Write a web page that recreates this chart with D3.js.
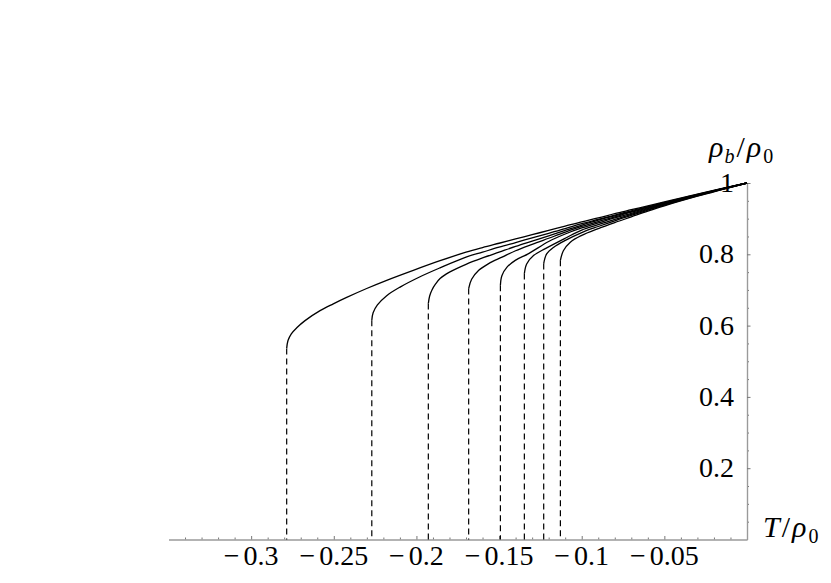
<!DOCTYPE html>
<html>
<head>
<meta charset="utf-8">
<script src="https://cdn.jsdelivr.net/npm/d3@7"></script>
<style>
  body { margin: 0; background: #fff; }
  svg text { font-family: "Liberation Serif", "Times New Roman", serif; fill: #000; }
</style>
</head>
<body>
<div id="graph"></div>
<script>
// points: [T/rho0, rho_b/rho0]
var curve1 = [[-0.2785,0.536],[-0.2777,0.558],[-0.2757,0.577],[-0.2724,0.594],[-0.2674,0.614],[-0.2583,0.642],
              [-0.2503,0.661],[-0.2422,0.679],[-0.2301,0.704],[-0.2180,0.727],[-0.2019,0.755],[-0.1857,0.782],
              [-0.17,0.806],[-0.16,0.819],[-0.15,0.831],[-0.14,0.843],[-0.13,0.855],[-0.12,0.867],[-0.11,0.879],
              [-0.1,0.891],[-0.09,0.902],[-0.08,0.914],[-0.07,0.925],[-0.06,0.936],[-0.05,0.947],[-0.03,0.969],[0,1]];
var curve2 = [[-0.2270,0.615],[-0.2262,0.636],[-0.2236,0.658],[-0.2180,0.684],[-0.2099,0.708],[-0.1978,0.737],
              [-0.1857,0.762],[-0.17,0.792],[-0.16,0.806],[-0.15,0.820],[-0.14,0.833],[-0.13,0.846],[-0.12,0.859],
              [-0.11,0.872],[-0.1,0.886],[-0.09,0.898],[-0.08,0.910],[-0.07,0.922],[-0.06,0.934],[-0.05,0.945],
              [-0.03,0.968],[0,1]];
var curve3 = [[-0.1928,0.662],[-0.1920,0.683],[-0.1906,0.700],[-0.1885,0.716],[-0.1857,0.732],[-0.18,0.750],
              [-0.17,0.772],[-0.16,0.790],[-0.15,0.806],[-0.14,0.822],[-0.13,0.837],[-0.12,0.852],[-0.11,0.867],
              [-0.1,0.882],[-0.09,0.896],[-0.08,0.908],[-0.07,0.920],[-0.06,0.932],[-0.05,0.944],[-0.03,0.967],[0,1]];
var curve4 = [[-0.1684,0.704],[-0.1666,0.730],[-0.1623,0.755],[-0.1563,0.774],[-0.1482,0.792],[-0.14,0.810],
              [-0.13,0.828],[-0.12,0.845],[-0.11,0.862],[-0.1,0.878],[-0.09,0.892],[-0.08,0.905],[-0.07,0.918],
              [-0.06,0.930],[-0.05,0.943],[-0.03,0.967],[0,1]];
var curve5 = [[-0.1492,0.713],[-0.1483,0.740],[-0.1452,0.764],[-0.1402,0.783],[-0.1321,0.802],[-0.12,0.836],
              [-0.11,0.857],[-0.1,0.874],[-0.09,0.888],[-0.08,0.902],[-0.07,0.915],[-0.06,0.928],[-0.05,0.941],
              [-0.03,0.966],[0,1]];
var curve6 = [[-0.1347,0.746],[-0.1333,0.773],[-0.1290,0.797],[-0.1220,0.816],[-0.11,0.845],[-0.1,0.868],
              [-0.09,0.883],[-0.08,0.898],[-0.07,0.912],[-0.06,0.926],[-0.05,0.940],[-0.03,0.965],[0,1]];
var curve7 = [[-0.1230,0.774],[-0.1212,0.801],[-0.1169,0.820],[-0.1099,0.839],[-0.1,0.861],[-0.09,0.878],
              [-0.08,0.894],[-0.07,0.909],[-0.06,0.924],[-0.05,0.938],[-0.03,0.964],[0,1]];
var curve8 = [[-0.1129,0.783],[-0.1111,0.810],[-0.1069,0.834],[-0.1,0.853],[-0.09,0.872],[-0.08,0.889],
              [-0.07,0.905],[-0.06,0.921],[-0.05,0.936],[-0.03,0.963],[0,1]];
var curves = [curve1, curve2, curve3, curve4, curve5, curve6, curve7, curve8];

var xMajorTicks = [-0.3, -0.25, -0.2, -0.15, -0.1, -0.05];
var xTickLabels = ["0.3", "0.25", "0.2", "0.15", "0.1", "0.05"];   // shown with a leading minus
var yMajorTicks = [0.2, 0.4, 0.6, 0.8, 1];
var yTickLabels = ["0.2", "0.4", "0.6", "0.8", "1"];

var W = 831, H = 583;
var FONT = 28;

var svg = d3.select("#graph").append("svg")
    .attr("width", W)
    .attr("height", H);

// scales
var xscale = d3.scaleLinear().domain([-0.35, 0]).range([168.5, 747]);
var yscale = d3.scaleLinear().domain([0, 1]).range([539.5, 183]);

// minor ticks every 0.01 / 0.05
var xMinor = d3.range(-34, 0).map(function(i){ return i / 100; })
    .filter(function(v){ return Math.abs(v * 20 - Math.round(v * 20)) > 1e-6; });
var yMinor = d3.range(1, 20).map(function(i){ return i / 20; })
    .filter(function(v){ return Math.abs(v * 5 - Math.round(v * 5)) > 1e-6; });

// x axis (ticks point up)
var xAxisMinor = d3.axisBottom(xscale).tickValues(xMinor).tickSizeInner(-2).tickSizeOuter(0).tickFormat("");
var xAxisMajor = d3.axisBottom(xscale).tickValues(xMajorTicks).tickSizeInner(-3.5).tickSizeOuter(0).tickFormat("");

svg.append("g").attr("transform", "translate(0," + yscale(0) + ")").call(xAxisMinor);
svg.append("g").attr("transform", "translate(0," + yscale(0) + ")").call(xAxisMajor);

// y axis at T = 0 (ticks point right, labels on the left)
var yAxisMinor = d3.axisRight(yscale).tickValues(yMinor).tickSizeInner(2).tickSizeOuter(0).tickFormat("");
var yAxisMajor = d3.axisRight(yscale).tickValues(yMajorTicks).tickSizeInner(3.5).tickSizeOuter(0).tickFormat("");

svg.append("g").attr("transform", "translate(" + xscale(0) + ",0)").call(yAxisMinor);
svg.append("g").attr("transform", "translate(" + xscale(0) + ",0)").call(yAxisMajor);

svg.selectAll(".domain").attr("stroke", "#9a9a9a").attr("stroke-width", 1.2);
svg.selectAll(".tick line").attr("stroke", "#777").attr("stroke-width", 1);

// tick labels
svg.append("g").selectAll("text")
    .data(yMajorTicks)
    .enter()
    .append("text")
    .attr("x", xscale(0) - 13)
    .attr("y", function(d){ return yscale(d); })
    .attr("dy", "0.32em")
    .attr("text-anchor", "end")
    .attr("font-size", FONT)
    .text(function(d, i){ return yTickLabels[i]; });

var xl = svg.append("g").selectAll("text")
    .data(xMajorTicks)
    .enter()
    .append("text")
    .attr("x", function(d){ return xscale(d); })
    .attr("y", 565)
    .attr("text-anchor", "middle")
    .attr("font-size", FONT);
xl.append("tspan").text("\u2212");
xl.append("tspan").attr("dx", 4).text(function(d, i){ return xTickLabels[i]; });

// dashed drops from each curve's start down to the axis
svg.append("g").selectAll("line")
    .data(curves)
    .enter()
    .append("line")
    .attr("x1", function(c){ return xscale(c[0][0]); })
    .attr("x2", function(c){ return xscale(c[0][0]); })
    .attr("y1", function(c){ return yscale(c[0][1]); })
    .attr("y2", yscale(0))
    .attr("stroke", "#000")
    .attr("stroke-width", 1.2)
    .attr("stroke-dasharray", "6,4");

// the curves
var line = d3.line()
    .x(function(d){ return xscale(d[0]); })
    .y(function(d){ return yscale(d[1]); })
    .curve(d3.curveCatmullRom.alpha(0.5));

svg.append("g").selectAll("path")
    .data(curves)
    .enter()
    .append("path")
    .attr("d", line)
    .attr("fill", "none")
    .attr("stroke", "#000")
    .attr("stroke-width", 1.3);

// axis titles
var yTitle = svg.append("text").attr("x", 709).attr("y", 157).attr("font-size", 30);
yTitle.append("tspan").attr("font-style", "italic").text("\u03c1");
yTitle.append("tspan").attr("font-style", "italic").attr("font-size", 20).attr("dx", 1).attr("dy", 6).text("b");
yTitle.append("tspan").attr("dx", 2).attr("dy", -6).text("/");
yTitle.append("tspan").attr("font-style", "italic").attr("dx", 2).text("\u03c1");
yTitle.append("tspan").attr("font-size", 20).attr("dx", 2).attr("dy", 6).text("0");

var xTitle = svg.append("text").attr("x", 763).attr("y", 537).attr("font-size", 30);
xTitle.append("tspan").attr("font-style", "italic").text("T");
xTitle.append("tspan").attr("dx", 2).text("/");
xTitle.append("tspan").attr("font-style", "italic").attr("dx", 2).text("\u03c1");
xTitle.append("tspan").attr("font-size", 20).attr("dx", 2).attr("dy", 6).text("0");
</script>
</body>
</html>
